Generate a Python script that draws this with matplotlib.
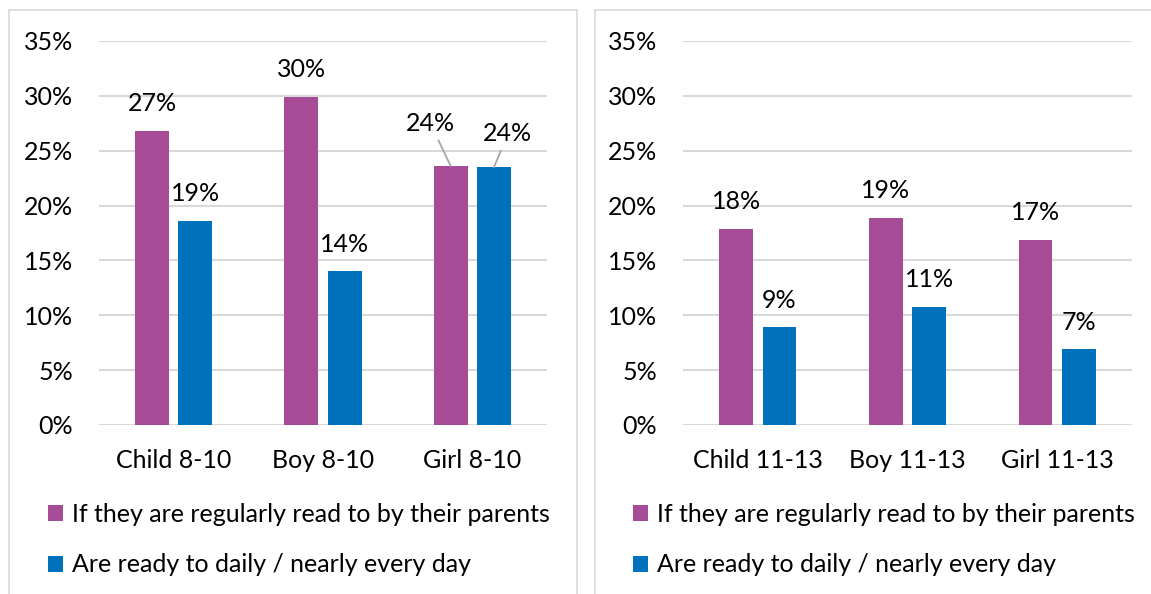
import matplotlib
matplotlib.use("Agg")
import matplotlib.pyplot as plt
from matplotlib.patches import Rectangle

plt.rcParams['font.family'] = ['Lato', 'DejaVu Sans']

# ---- data ----
cats_left = ["Child 8-10", "Boy 8-10", "Girl 8-10"]
cats_right = ["Child 11-13", "Boy 11-13", "Girl 11-13"]
read_to_left = [26.8, 29.9, 23.6]
daily_left = [18.6, 14.0, 23.5]
read_to_right = [17.9, 18.9, 16.9]
daily_right = [8.9, 10.8, 6.9]
series_names = ["If they are regularly read to by their parents",
                "Are ready to daily / nearly every day"]
yticks = [0, 5, 10, 15, 20, 25, 30, 35]

PURPLE = "#A64B95"
BLUE = "#0072BB"
GRID = "#D9D9D9"
FS = 18

W, H = 1151, 594
fig = plt.figure(figsize=(W / 100, H / 100), dpi=100)

def fx(px):
    return px / W

def fy(py):
    return 1 - py / H

# panel borders
for x0, x1 in [(9, 577), (595, 1160)]:
    fig.patches.append(Rectangle((fx(x0), fy(600)), fx(x1 - x0), fy(10) - fy(600),
                                 transform=fig.transFigure, fill=False,
                                 edgecolor=GRID, lw=1.2, zorder=0))

def draw(ax_left_px, ax_right_px, cats, s1, s2, leg_x_px, girl_special):
    ax = fig.add_axes([fx(ax_left_px), fy(425), fx(ax_right_px - ax_left_px), fy(41) - fy(425)])
    x = list(range(len(cats)))
    off, bw = 0.145, 0.226
    b1 = ax.bar([i - off for i in x], s1, bw, color=PURPLE, zorder=3, label=series_names[0])
    b2 = ax.bar([i + off for i in x], s2, bw, color=BLUE, zorder=3, label=series_names[1])
    ax.set_xlim(-0.5, len(cats) - 0.5)
    ax.set_ylim(0, 35)
    ax.set_yticks(yticks)
    ax.set_yticklabels([f"{t}%" for t in yticks])
    ax.set_xticks(x)
    ax.set_xticklabels(cats)
    ax.tick_params(axis='y', length=0, pad=18.5, labelsize=FS)
    ax.tick_params(axis='x', length=0, pad=17, labelsize=FS)
    for s in ax.spines.values():
        s.set_visible(False)
    ax.grid(axis='y', color=GRID, lw=1.5, zorder=0)
    ax.set_axisbelow(True)
    for i in x:
        for xi, v in [(i - off, s1[i]), (i + off, s2[i])]:
            if girl_special and i == 2:
                continue
            ax.annotate(f"{round(v)}%", (xi, v), xytext=(0, 19.5), textcoords='offset points',
                        ha='center', va='center', fontsize=FS)
    if girl_special:
        i = 2
        ax.annotate(f"{round(s1[i])}%", (i - off, s1[i]), xytext=(-14.5, 30.5), textcoords='offset points',
                    ha='center', va='center', fontsize=FS,
                    arrowprops=dict(arrowstyle='-', color='#A6A6A6', lw=1.3, shrinkA=2, shrinkB=0))
        ax.annotate(f"{round(s2[i])}%", (i + off, s2[i]), xytext=(10, 24), textcoords='offset points',
                    ha='center', va='center', fontsize=FS,
                    arrowprops=dict(arrowstyle='-', color='#A6A6A6', lw=1.3, shrinkA=2, shrinkB=0))
    fig.legend(handles=[b1, b2], loc='upper left',
               bbox_to_anchor=(fx(leg_x_px), fy(503)), frameon=False,
               fontsize=FS, handlelength=0.6, handleheight=0.6,
               handletextpad=0.35, labelspacing=1.1, borderaxespad=0, borderpad=0)
    return ax

draw(99, 547, cats_left, read_to_left, daily_left, 48, True)
draw(683, 1132, cats_right, read_to_right, daily_right, 633, False)

fig.savefig("out.png", dpi=100)
